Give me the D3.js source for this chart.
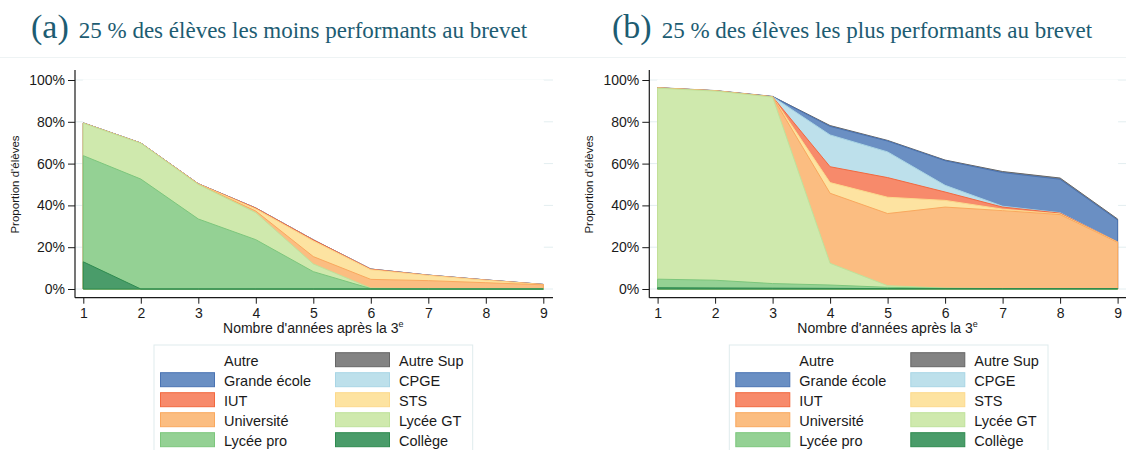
<!DOCTYPE html>
<html>
<head>
<meta charset="utf-8">
<script src="https://cdn.jsdelivr.net/npm/d3@7/dist/d3.min.js"></script>
<style>
  body { margin: 0; background: #fff; }
  svg { display: block; }
</style>
</head>
<body>
<div id="chart"></div>
<script>
// Années après la 3e
const years = [1, 2, 3, 4, 5, 6, 7, 8, 9];
const yTicks = [0, 20, 40, 60, 80, 100];

// Catégories, du bas de la pile vers le haut
const stackKeys = ["Collège", "Lycée pro", "Lycée GT", "Université", "STS", "IUT", "CPGE", "Grande école", "Autre Sup", "Autre"];
// Ordre de la légende (lecture ligne par ligne)
const legendKeys = ["Autre", "Autre Sup", "Grande école", "CPGE", "IUT", "STS", "Université", "Lycée GT", "Lycée pro", "Collège"];

const fillColors = {
    "Autre": "#ffffff", "Autre Sup": "#838383", "Grande école": "#6a8fc3", "CPGE": "#bde0eb",
    "IUT": "#f78a6b", "STS": "#fde3a1", "Université": "#fbbd81", "Lycée GT": "#cfe9ad",
    "Lycée pro": "#94d194", "Collège": "#4a9c6a"
};
const lineColors = {
    "Autre": "#ffffff", "Autre Sup": "#666666", "Grande école": "#4a73b2", "CPGE": "#a9d5e5",
    "IUT": "#f2683f", "STS": "#fcd98c", "Université": "#f9a85e", "Lycée GT": "#bfe29b",
    "Lycée pro": "#7cc67c", "Collège": "#2e8b4f"
};

// (a) 25 % des élèves les moins performants (en %)
const collegeA   = [13.0, 0, 0, 0, 0, 0, 0, 0, 0];
const lyceeProA  = [50.8, 52.6, 33.5, 23.6, 8.3, 0.2, 0, 0, 0];
const lyceeGTA   = [15.5, 17.1, 16.5, 12.9, 3.7, 0.2, 0.1, 0, 0];
const universiteA = [0, 0, 0.1, 0.8, 3.5, 4.2, 3.9, 3.0, 2.0];
const stsA       = [0, 0, 0.1, 1.0, 7.5, 4.6, 2.5, 1.2, 0.1];
const iutA       = [0.1, 0.1, 0.1, 0.4, 0.5, 0.3, 0.1, 0.1, 0.05];
const cpgeA      = [0, 0, 0, 0, 0, 0, 0, 0, 0];
const geA        = [0.05, 0.05, 0.05, 0.05, 0.05, 0.05, 0.05, 0.05, 0.05];
const autreSupA  = [0, 0, 0, 0, 0, 0, 0, 0, 0];
const autreA     = [20.55, 30.15, 49.65, 61.25, 76.45, 90.45, 93.35, 95.65, 97.8];

// (b) 25 % des élèves les plus performants (en %)
const collegeB   = [0.6, 0.5, 0.4, 0.3, 0.2, 0.2, 0.2, 0.2, 0.2];
const lyceeProB  = [4.1, 3.7, 2.2, 1.6, 0.6, 0.1, 0, 0, 0];
const lyceeGTB   = [91.4, 90.5, 89.2, 10.4, 0.8, 0.1, 0, 0, 0];
const universiteB = [0.1, 0.1, 0.1, 33.5, 34.5, 38.8, 37.3, 35.4, 22.1];
const stsB       = [0, 0, 0, 5.1, 7.8, 3.2, 0.7, 0.3, 0.1];
const iutB       = [0.05, 0.05, 0.05, 7.6, 9.4, 4.0, 1.0, 0.4, 0.1];
const cpgeB      = [0, 0, 0, 15.2, 12.3, 3.2, 0.4, 0.2, 0];
const geB        = [0, 0, 0.1, 4.1, 5.2, 11.8, 16.1, 16.0, 10.5];
const autreSupB  = [0.1, 0.1, 0.1, 0.4, 0.3, 0.3, 0.5, 0.6, 0.5];
const autreB     = [3.65, 5.05, 7.85, 21.8, 28.9, 38.3, 43.8, 46.9, 66.5];

function buildRows(series) {
    return years.map((yr, i) => {
        const row = { year: yr };
        stackKeys.forEach(k => { row[k] = series[k][i]; });
        return row;
    });
}

const dataA = buildRows({
    "Collège": collegeA, "Lycée pro": lyceeProA, "Lycée GT": lyceeGTA, "Université": universiteA,
    "STS": stsA, "IUT": iutA, "CPGE": cpgeA, "Grande école": geA, "Autre Sup": autreSupA, "Autre": autreA
});
const dataB = buildRows({
    "Collège": collegeB, "Lycée pro": lyceeProB, "Lycée GT": lyceeGTB, "Université": universiteB,
    "STS": stsB, "IUT": iutB, "CPGE": cpgeB, "Grande école": geB, "Autre Sup": autreSupB, "Autre": autreB
});

const W = 1126, H = 450;
const svg = d3.select("#chart").append("svg")
    .attr("width", W)
    .attr("height", H);

const sansFont = "'Liberation Sans', Arial, Helvetica, sans-serif";
const serifFont = "'Liberation Serif', 'Times New Roman', serif";
const titleColor = "#1d5c72";

function drawPanel(opts) {
    const g = svg.append("g");
    const { left, right, data, letter, title } = opts;
    const plotTop = 70, plotBottom = 297.7;

    const x = d3.scaleLinear().domain([1, 9]).range([left + 8.3, left + 468.3]);
    const y = d3.scaleLinear().domain([0, 100]).range([289, 80]);

    // Titre
    const t = g.append("text")
        .attr("x", opts.titleX)
        .attr("y", 38)
        .attr("fill", titleColor)
        .attr("font-family", serifFont);
    t.append("tspan").attr("font-size", "34px").text(letter);
    t.append("tspan").attr("font-size", "23px").attr("dx", 10).text(title);

    // Quadrillage léger
    g.append("g").selectAll("line")
        .data(yTicks)
        .join("line")
        .attr("x1", left).attr("x2", right)
        .attr("y1", d => y(d)).attr("y2", d => y(d))
        .attr("stroke", "#e3eef0")
        .attr("stroke-width", 1);

    // Aires empilées (dessinées du haut vers le bas, depuis 0)
    const stacked = d3.stack().keys(stackKeys)(data);
    const area = d3.area()
        .x(d => x(d.data.year))
        .y0(y(0))
        .y1(d => y(d[1]));

    g.append("g").selectAll("path")
        .data(stacked.slice().reverse())
        .join("path")
        .attr("d", area)
        .attr("fill", d => fillColors[d.key])
        .attr("stroke", d => lineColors[d.key])
        .attr("stroke-width", 1)
        .attr("stroke-linejoin", "round");

    // Axe Y
    const yAxis = g.append("g")
        .attr("transform", `translate(${left},0)`)
        .call(d3.axisLeft(y).tickValues(yTicks).tickSize(7).tickPadding(3).tickFormat(d => d + "%"));
    yAxis.select(".domain").remove();
    yAxis.selectAll("text").attr("font-size", "14px").attr("font-family", sansFont).attr("fill", "#1a1a1a");
    yAxis.selectAll("line").attr("stroke", "#1a1a1a");

    // Axe X
    const xAxis = g.append("g")
        .attr("transform", `translate(0,${plotBottom})`)
        .call(d3.axisBottom(x).tickValues(years).tickSize(6).tickPadding(4.7).tickFormat(d3.format("d")));
    xAxis.select(".domain").remove();
    xAxis.selectAll("text").attr("font-size", "14px").attr("font-family", sansFont).attr("fill", "#1a1a1a");
    xAxis.selectAll("line").attr("stroke", "#1a1a1a");

    g.append("line")
        .attr("x1", left).attr("x2", left)
        .attr("y1", plotTop).attr("y2", plotBottom)
        .attr("stroke", "#1a1a1a").attr("stroke-width", 1.2);
    g.append("line")
        .attr("x1", left).attr("x2", right)
        .attr("y1", plotBottom).attr("y2", plotBottom)
        .attr("stroke", "#1a1a1a").attr("stroke-width", 1.2);

    // Titres des axes
    const xt = g.append("text")
        .attr("x", (x(1) + x(9)) / 2)
        .attr("y", 332.5)
        .attr("text-anchor", "middle")
        .attr("font-family", sansFont)
        .attr("font-size", "14px")
        .attr("fill", "#1a1a1a")
        .text("Nombre d'années après la 3");
    xt.append("tspan").attr("font-size", "9px").attr("dy", -5.5).text("e");

    g.append("text")
        .attr("transform", `translate(${left - 56},${(y(0) + y(100)) / 2}) rotate(-90)`)
        .attr("text-anchor", "middle")
        .attr("font-family", sansFont)
        .attr("font-size", "11.5px")
        .attr("fill", "#1a1a1a")
        .text("Proportion d'élèves");

    // Légende
    const L = opts.legendX;
    const leg = g.append("g");
    leg.append("rect")
        .attr("x", L).attr("y", 345)
        .attr("width", 318.7).attr("height", 130)
        .attr("fill", "#fff")
        .attr("stroke", "#dfeced")
        .attr("stroke-width", 1);

    const items = leg.selectAll("g.item")
        .data(legendKeys)
        .join("g")
        .attr("class", "item")
        .attr("transform", (d, i) => `translate(${L + (i % 2) * 175},${360.7 + Math.floor(i / 2) * 20})`);

    items.append("rect")
        .attr("x", 6.5).attr("y", -8)
        .attr("width", 54).attr("height", 14)
        .attr("fill", d => fillColors[d])
        .attr("stroke", d => lineColors[d])
        .attr("stroke-width", 1);

    items.append("text")
        .attr("x", 70)
        .attr("y", 5)
        .attr("font-family", sansFont)
        .attr("font-size", "14.5px")
        .attr("fill", "#1a1a1a")
        .text(d => d);
}

// Liseré léger sous les titres
svg.append("line")
    .attr("x1", 0).attr("x2", W)
    .attr("y1", 57.5).attr("y2", 57.5)
    .attr("stroke", "#eef3f4");

drawPanel({
    left: 75, right: 553, data: dataA, letter: "(a)",
    title: "25 % des élèves les moins performants au brevet",
    titleX: 31, legendX: 154
});
drawPanel({
    left: 649.3, right: 1126, data: dataB, letter: "(b)",
    title: "25 % des élèves les plus performants au brevet",
    titleX: 612, legendX: 729.3
});
</script>
</body>
</html>
